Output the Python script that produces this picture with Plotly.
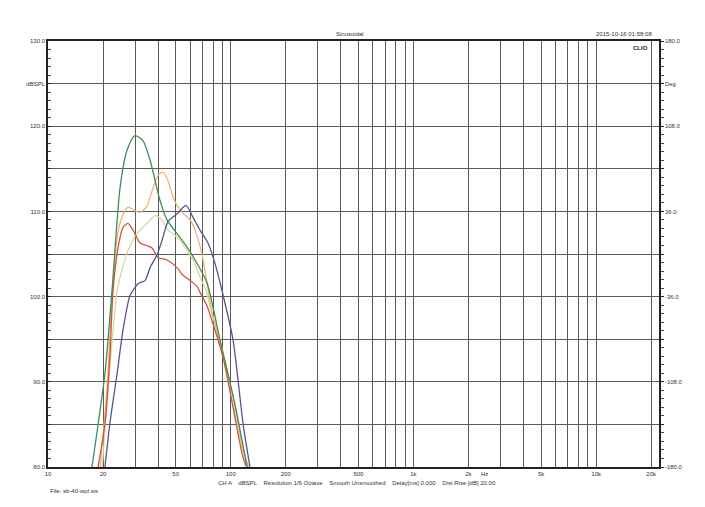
import plotly.graph_objects as go

# frequency response curves (Hz, dBSPL)
green_f = [17.4, 20.5, 22.4, 24.8, 27.1, 29.9, 33.1, 36.2, 41.0, 44.8, 50.8, 57.7, 65.4, 74.2, 87.4, 105.6, 122.8]
green_db = [80.0, 91.0, 100.7, 112.8, 117.2, 118.9, 118.3, 116.0, 111.3, 109.0, 107.4, 105.8, 103.9, 101.6, 94.9, 87.3, 80.0]

blue_f = [20.5, 21.8, 23.9, 25.7, 28.1, 31.1, 34.0, 36.2, 39.5, 42.1, 45.4, 51.5, 56.9, 62.2, 67.9, 75.1, 82.0, 89.6, 103.0, 116.8, 127.5]
blue_db = [80.0, 85.1, 91.0, 96.0, 100.1, 101.5, 101.9, 103.4, 104.9, 106.6, 108.8, 109.8, 110.7, 109.3, 107.8, 106.3, 103.9, 100.7, 94.9, 85.1, 80.0]

red_f = [18.8, 20.5, 21.8, 22.7, 24.2, 25.7, 27.4, 29.2, 31.9, 34.8, 37.1, 40.0, 44.8, 50.8, 54.8, 59.9, 65.4, 67.9, 74.2, 80.0, 90.7, 103.0, 116.8, 122.8]
red_db = [80.0, 85.1, 92.9, 100.7, 105.8, 108.1, 108.6, 107.8, 106.3, 106.0, 105.7, 104.6, 104.3, 103.4, 102.5, 101.9, 101.2, 100.5, 98.9, 96.8, 92.9, 87.0, 81.1, 80.0]

orange_f = [19.3, 21.0, 22.4, 23.9, 25.4, 27.4, 29.9, 31.9, 34.8, 37.1, 40.0, 42.6, 45.4, 48.3, 51.5, 54.8, 59.9, 63.8, 69.6, 74.2, 80.0, 90.7, 103.0, 116.8, 125.0]
orange_db = [80.0, 89.0, 99.6, 107.0, 109.3, 110.5, 110.1, 109.9, 110.6, 112.4, 114.2, 114.6, 113.6, 111.7, 110.5, 109.8, 109.0, 107.8, 105.0, 101.6, 97.6, 93.3, 88.2, 82.3, 80.0]

khaki_f = [19.8, 21.3, 23.9, 25.4, 27.4, 30.7, 34.8, 38.5, 42.1, 45.4, 49.6, 52.8, 57.7, 62.2, 67.9, 74.2, 77.0, 87.4, 99.1, 112.4, 119.8]
khaki_db = [80.0, 89.0, 100.7, 103.1, 105.4, 107.4, 108.6, 109.5, 109.0, 107.8, 107.2, 106.6, 105.4, 104.3, 102.3, 100.4, 98.8, 94.9, 89.0, 83.5, 80.0]

x_grid = [10, 20, 30, 40, 50, 60, 70, 80, 90,
          100, 200, 300, 400, 500, 600, 700, 800, 900,
          1000, 2000, 3000, 4000, 5000, 6000, 7000, 8000, 9000,
          10000, 20000]
x_labels = ["10", "20", "", "", "50", "", "", "", "",
            "100", "200", "", "", "500", "", "", "", "",
            "1k", "2k", "", "", "5k", "", "", "", "",
            "10k", "20k"]

y_vals = [80, 85, 90, 95, 100, 105, 110, 115, 120, 125, 130]
y_left = ["80.0", "", "90.0", "", "100.0", "", "110.0", "", "120.0", "dBSPL", "130.0"]
y_right = ["-180.0", "", "-108.0", "", "-36.0", "", "36.0", "", "108.0", "Deg", "180.0"]

COLORS = {
    "green": "#3f8f58",
    "blue": "#55568e",
    "red": "#d0553f",
    "orange": "#eeb37a",
    "khaki": "#d9d79c",
    "grid": "#5a5a5a",
    "text": "#333333",
}

TXT = dict(family="Liberation Sans, Arial, sans-serif", size=6, color=COLORS["text"])

fig = go.Figure()
series = [
    (khaki_f, khaki_db, COLORS["khaki"]),
    (orange_f, orange_db, COLORS["orange"]),
    (red_f, red_db, COLORS["red"]),
    (blue_f, blue_db, COLORS["blue"]),
    (green_f, green_db, COLORS["green"]),
]
for f, db, c in series:
    fig.add_trace(go.Scatter(
        x=f, y=db, mode="lines",
        line=dict(color=c, width=1.3, shape="spline", smoothing=0.7),
        showlegend=False, hoverinfo="skip",
    ))

# invisible twin so the right (phase) axis gets drawn
fig.add_trace(go.Scatter(x=[x_grid[0]], y=[y_vals[0]], yaxis="y2", mode="markers",
                         marker=dict(opacity=0), showlegend=False, hoverinfo="skip"))

# page body adds an 8px offset, margins compensate for it
fig.update_layout(
    width=705, height=507,
    paper_bgcolor="white", plot_bgcolor="white",
    margin=dict(l=40, r=54, t=33, b=48, autoexpand=False),
    font=TXT,
    xaxis=dict(
        type="log", range=[1, 4.344],
        tickvals=x_grid, ticktext=x_labels,
        showgrid=True, gridcolor=COLORS["grid"], gridwidth=1,
        showline=True, linecolor="#222222", linewidth=1.5, mirror=True,
        ticks="", tickfont=TXT, zeroline=False,
    ),
    yaxis=dict(
        range=[80, 130], tickvals=y_vals, ticktext=y_left,
        showgrid=True, gridcolor=COLORS["grid"], gridwidth=1,
        showline=True, linecolor="#222222", linewidth=1.5, mirror=True,
        ticks="inside", ticklen=3, tickcolor="#222222",
        minor=dict(dtick=1, ticks="inside", ticklen=3, tickcolor="#444444", showgrid=False),
        tickfont=TXT, zeroline=False,
    ),
    yaxis2=dict(
        range=[80, 130], overlaying="y", side="right",
        tickvals=y_vals, ticktext=y_right,
        showgrid=False, showline=True, linecolor="#222222", linewidth=1.5,
        ticks="outside", ticklen=3, tickcolor="#222222",
        minor=dict(dtick=1, ticks="outside", ticklen=3, tickcolor="#444444"),
        tickfont=TXT, zeroline=False,
    ),
    annotations=[
        dict(text="Sinusoidal", xref="paper", yref="paper", x=0.494, y=1.0,
             yanchor="bottom", yshift=2, showarrow=False, font=TXT),
        dict(text="2015-10-16 01:58:08", xref="paper", yref="paper", x=1.0,
             xanchor="right", y=1.0, yanchor="bottom", yshift=2, xshift=-5, showarrow=False, font=TXT),
        dict(text="<b>CLIO</b>", xref="paper", yref="paper", x=0.985, xanchor="right",
             y=0.995, yanchor="top", showarrow=False,
             font=dict(family="Liberation Sans, Arial", size=6, color="#222222")),
        dict(text="Hz", xref="paper", yref="paper", x=0.723, y=0, yanchor="top",
             yshift=-2, showarrow=False, font=TXT),
        dict(text="CH A    dBSPL    Resolution 1/6 Octave    Smooth Unsmoothed    "
                  "Delay[ms] 0.000    Dist Rise [dB] 20.00",
             xref="paper", yref="paper", x=0.505, y=0, yanchor="top", yshift=-11,
             showarrow=False, font=TXT),
        dict(text="File: sb-40-wpl.sis", xref="paper", yref="paper", x=0.0, xanchor="left",
             y=0, yanchor="top", yshift=-19, showarrow=False, font=TXT),
    ],
)

fig.write_html("out.html")
